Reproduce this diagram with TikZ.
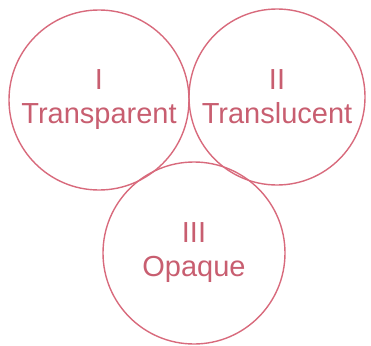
\documentclass[tikz,border=0pt]{standalone}
\usepackage{fontspec}
\setmainfont{Liberation Sans}
\definecolor{ring}{HTML}{D86A7C}
\definecolor{ink}{HTML}{C85E70}
\begin{document}
\begin{tikzpicture}[x=1pt,y=-1pt,
  ringnode/.style={circle,draw=ring,line width=1.4pt,inner sep=0pt,text=ink,align=center,
    font=\fontsize{29}{34}\selectfont}]
\useasboundingbox (0,0) rectangle (371,345);
\node[ringnode,minimum size=180pt] (t) at (99,100) {I\\Transparent};
\node[ringnode,minimum size=176pt] (l) at (277,97) {II\\Translucent};
\node[ringnode,minimum size=182pt] (o) at (194,253) {III\\Opaque};
\end{tikzpicture}
\end{document}
